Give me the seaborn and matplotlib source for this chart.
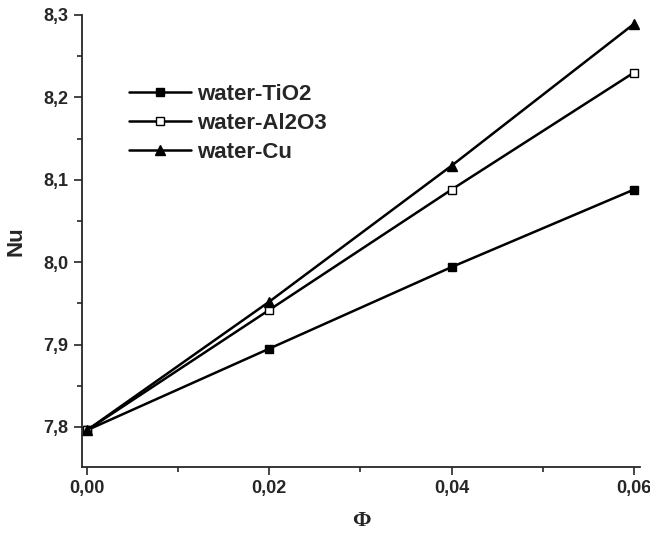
import matplotlib
matplotlib.use("Agg")
import pandas as pd
import matplotlib.pyplot as plt
import seaborn as sns
from matplotlib.ticker import MultipleLocator, FuncFormatter

phi = [0.00, 0.02, 0.04, 0.06]
nu_tio2 = [7.796, 7.895, 7.994, 8.088]
nu_al2o3 = [7.796, 7.942, 8.088, 8.230]
nu_cu = [7.796, 7.952, 8.117, 8.289]

sns.set_style("ticks")
plt.rcParams['font.family'] = ['Liberation Sans', 'DejaVu Sans']

fig = plt.figure(figsize=(6.5, 5.33), dpi=100)
ax = fig.add_axes([0.126, 0.124, 0.859, 0.848])

series = [('water-TiO2', nu_tio2, 's', 'black'),
          ('water-Al2O3', nu_al2o3, 's', 'white'),
          ('water-Cu', nu_cu, '^', 'black')]
for name, vals, mk, fc in series:
    df = pd.DataFrame({'phi': phi, 'nu': vals})
    sns.lineplot(data=df, x='phi', y='nu', ax=ax, color='black', linewidth=1.8,
                 marker=mk, markersize=7 if mk == '^' else 6, markerfacecolor=fc,
                 markeredgecolor='black', markeredgewidth=1.0, label=name)

ax.set_xlim(-0.00055, 0.0607)
ax.set_ylim(7.7515, 8.3)
ax.xaxis.set_major_locator(MultipleLocator(0.02))
ax.xaxis.set_minor_locator(MultipleLocator(0.01))
ax.yaxis.set_major_locator(MultipleLocator(0.1))
ax.yaxis.set_minor_locator(MultipleLocator(0.05))
ax.xaxis.set_major_formatter(FuncFormatter(lambda v, p: f"{v:.2f}".replace('.', ',')))
ax.yaxis.set_major_formatter(FuncFormatter(lambda v, p: f"{v:.1f}".replace('.', ',')))
ax.tick_params(axis='both', which='major', direction='out', length=6, width=1.2,
               labelsize=13)
ax.tick_params(axis='both', which='minor', direction='out', length=3.5, width=1.2)
for lab in ax.get_xticklabels() + ax.get_yticklabels():
    lab.set_fontweight('bold')
for s in ['top', 'right']:
    ax.spines[s].set_visible(False)
for s in ['left', 'bottom']:
    ax.spines[s].set_linewidth(1.3)

ax.set_xlabel('Φ', fontsize=16, fontweight='bold',
              family=['Liberation Serif', 'DejaVu Serif'], labelpad=10)
ax.set_ylabel('Nu', fontsize=16, fontweight='bold', labelpad=12)

leg = ax.legend(loc='upper left', bbox_to_anchor=(0.049, 0.891), frameon=False,
                handlelength=2.8, handletextpad=0.25, labelspacing=0.35,
                prop={'weight': 'bold', 'size': 16})

fig.savefig('out.png', dpi=100)
